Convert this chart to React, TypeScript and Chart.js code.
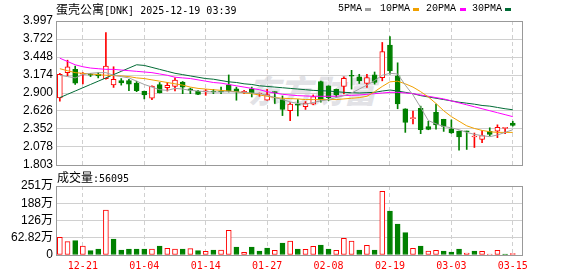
import React, { useEffect, useRef } from 'react';
import { Chart, registerables } from 'chart.js';

Chart.register(...registerables);

// ---------------- data ----------------
const dates = [
  '12-16', '12-17', '12-18', '12-21', '12-22', '12-23', '12-24', '12-28', '12-29', '12-30',
  '12-31', '01-04', '01-05', '01-06', '01-07', '01-08', '01-11', '01-12', '01-13', '01-14',
  '01-15', '01-19', '01-20', '01-21', '01-22', '01-25', '01-26', '01-27', '01-28', '01-29',
  '02-01', '02-02', '02-03', '02-04', '02-05', '02-08', '02-09', '02-10', '02-11', '02-12',
  '02-16', '02-17', '02-18', '02-19', '02-22', '02-23', '02-24', '02-25', '02-26', '03-01',
  '03-02', '03-03', '03-04', '03-05', '03-08', '03-09', '03-10', '03-11', '03-12', '03-15',
];

const opens = [
  2.825, 3.21, 3.26, 3.185, 3.19, 3.19, 3.12, 3.025, 3.09, 3.09,
  3.05, 2.925, 2.82, 3.03, 2.98, 3.0, 3.065, 2.965, 2.925, 2.918,
  2.925, 2.93, 3.025, 2.965, 2.905, 2.965, 2.885, 2.79, 2.915, 2.8,
  2.63, 2.73, 2.69, 2.73, 3.075, 3.01, 2.955, 3.0, 3.165, 3.145,
  3.045, 3.175, 3.135, 3.63, 3.16, 2.66, 2.51, 2.665, 2.39, 2.605,
  2.5, 2.355, 2.32, 2.32, 2.23, 2.193, 2.315, 2.317, 2.36, 2.44,
];
const highs = [
  3.2, 3.4, 3.31, 3.21, 3.2, 3.21, 3.82, 3.3, 3.12, 3.11,
  3.08, 2.93, 3.01, 3.06, 3.06, 3.13, 3.075, 2.975, 2.94, 2.955,
  2.955, 2.99, 3.175, 2.99, 2.94, 2.99, 2.9, 2.955, 2.92, 2.855,
  2.755, 2.8, 2.77, 2.87, 3.08, 3.01, 2.96, 3.145, 3.245, 3.185,
  3.185, 3.22, 3.67, 3.76, 3.36, 2.66, 2.625, 2.7, 2.47, 2.73,
  2.5, 2.49, 2.32, 2.32, 2.29, 2.327, 2.37, 2.415, 2.375, 2.47,
];
const lows = [
  2.775, 3.16, 3.03, 3.04, 3.15, 3.13, 3.11, 2.985, 3.02, 2.935,
  2.92, 2.81, 2.8, 2.9, 2.93, 2.93, 2.89, 2.89, 2.875, 2.865,
  2.89, 2.89, 2.915, 2.79, 2.89, 2.84, 2.85, 2.79, 2.74, 2.556,
  2.477, 2.55, 2.65, 2.72, 2.76, 2.785, 2.835, 2.885, 2.96, 3.045,
  2.985, 3.035, 3.085, 3.185, 2.66, 2.3, 2.43, 2.28, 2.34, 2.35,
  2.315, 2.285, 2.03, 2.04, 2.07, 2.143, 2.245, 2.22, 2.28, 2.395,
];
const closes = [
  3.184, 3.3, 3.05, 3.2, 3.17, 3.16, 3.31, 3.11, 3.055, 3.035,
  2.935, 2.87, 3.005, 2.9, 3.015, 3.095, 2.99, 2.94, 2.88, 2.925,
  2.915, 2.915, 2.93, 2.915, 2.925, 2.905, 2.895, 2.875, 2.905, 2.65,
  2.73, 2.715, 2.745, 2.845, 2.795, 2.83, 2.87, 3.124, 3.155, 3.085,
  3.135, 3.06, 3.53, 3.235, 2.735, 2.45, 2.52, 2.34, 2.345, 2.415,
  2.39, 2.29, 2.23, 2.31, 2.235, 2.252, 2.27, 2.377, 2.37, 2.405,
];

// volume in 万 (10k shares)
const volumes = [
  64.3, 48.6, 52.2, 32.8, 15.8, 21.9, 163.9, 58.3, 18.2, 21.9,
  21.9, 21.9, 21.9, 32.8, 24.3, 21.9, 21.9, 23.0, 15.8, 13.4,
  18.2, 18.2, 89.8, 29.1, 9.7, 29.1, 14.6, 25.5, 17.0, 43.7,
  51.0, 21.9, 20.6, 31.6, 36.4, 21.9, 17.0, 60.7, 51.0, 18.2,
  35.2, 18.2, 231.9, 160.2, 112.9, 81.3, 24.3, 32.8, 14.6, 17.0,
  14.6, 10.9, 21.9, 7.3, 14.6, 13.4, 3.6, 17.0, 3.6, 5.6095,
];
// 1 = up day (red hollow bar), 0 = down day (green bar)
const volUp = [
  1, 1, 0, 1, 0, 0, 1, 0, 0, 0,
  0, 0, 1, 0, 1, 1, 0, 1, 0, 1,
  0, 1, 1, 0, 1, 0, 0, 0, 1, 0,
  1, 0, 1, 1, 0, 0, 1, 1, 1, 0,
  1, 0, 1, 0, 0, 0, 1, 0, 1, 1,
  0, 0, 0, 1, 0, 1, 1, 1, 0, 1,
];

const ma5 = [
  3.17, 3.15, 3.13, 3.18, 3.2, 3.21, 3.21, 3.17, 3.15, 3.13,
  3.08, 3.03, 2.99, 2.95, 2.94, 2.97, 2.96, 2.94, 2.93, 2.92,
  2.915, 2.915, 2.92, 2.915, 2.91, 2.9, 2.89, 2.865, 2.83, 2.8,
  2.765, 2.74, 2.73, 2.755, 2.78, 2.8, 2.83, 2.86, 2.9, 2.96,
  3.02, 3.09, 3.17, 3.2, 3.19, 3.02, 2.87, 2.68, 2.48, 2.43,
  2.39, 2.37, 2.34, 2.3, 2.27, 2.25, 2.235, 2.26, 2.3, 2.34,
];
const ma10 = [
  3.27, 3.24, 3.21, 3.2, 3.19, 3.18, 3.17, 3.165, 3.16, 3.15,
  3.13, 3.12, 3.1, 3.08, 3.06, 3.04, 3.02, 2.99, 2.97, 2.96,
  2.95, 2.94, 2.93, 2.92, 2.9, 2.89, 2.87, 2.85, 2.83, 2.82,
  2.815, 2.81, 2.8, 2.8, 2.8, 2.8, 2.8, 2.81, 2.82, 2.83,
  2.85, 2.92, 3.0, 3.07, 3.08, 3.04, 2.99, 2.92, 2.84, 2.74,
  2.63, 2.54, 2.47, 2.4, 2.36, 2.33, 2.31, 2.3, 2.3, 2.3,
];
const ma20 = [
  3.43, 3.38, 3.33, 3.3, 3.28, 3.27, 3.26, 3.26, 3.25, 3.24,
  3.23, 3.22, 3.21, 3.19, 3.17, 3.14, 3.13, 3.12, 3.1, 3.08,
  3.06, 3.05, 3.03, 3.01, 2.99, 2.97, 2.95, 2.92, 2.9, 2.88,
  2.87, 2.86, 2.855, 2.85, 2.85, 2.85, 2.85, 2.86, 2.865, 2.87,
  2.88, 2.89, 2.9, 2.91, 2.91, 2.9, 2.89, 2.87, 2.85, 2.83,
  2.81, 2.78, 2.75, 2.72, 2.69, 2.66, 2.63, 2.6, 2.57, 2.54,
];
const ma30 = [
  2.83, 2.88, 2.93, 2.98, 3.03, 3.08, 3.13, 3.18, 3.23, 3.28,
  3.33, 3.32, 3.29, 3.26, 3.23, 3.2, 3.18, 3.16, 3.14, 3.12,
  3.11, 3.09, 3.07, 3.06, 3.04, 3.03, 3.01, 3.0, 2.99, 2.98,
  2.97, 2.96, 2.95, 2.94, 2.935, 2.93, 2.92, 2.91, 2.905, 2.9,
  2.905, 2.91, 2.93, 2.945, 2.93, 2.91, 2.89, 2.86, 2.84, 2.82,
  2.8, 2.78, 2.76, 2.745, 2.73, 2.71, 2.7, 2.68, 2.66, 2.645,
];

const priceTicks = ['1.803', '2.078', '2.352', '2.626', '2.900', '3.174', '3.448', '3.722', '3.997'];
const volTickValues = [0, 62.82, 125.64, 188.46, 251.28];
const volTickLabels = ['0', '62.82万', '126万', '188万', '251万'];
const dateTickIdx = [3, 11, 19, 27, 35, 43, 51, 59];

const maNames = ['5PMA', '10PMA', '20PMA', '30PMA'];

// ---------------- styles ----------------
const RED = '#ff0000';
const GREEN = '#008000';
const MA_COLORS = ['#a0a0a0', '#f0a000', '#ff00ff', '#006b35'];
const GRID = '#d0d0d0';
const FRAME = '#999999';
const W = 578;
const PRICE_H = 178;
const VOL_TOP = 170;
const VOL_H = 106;

const align = (p: number) => Math.round(p - 0.5) + 0.5;

const framePlugin = {
  id: 'frame',
  afterDraw(chart: any) {
    const { ctx, chartArea } = chart;
    const l = align(chartArea.left);
    const t = align(chartArea.top);
    const r = align(chartArea.right);
    const b = align(chartArea.bottom);
    ctx.save();
    ctx.strokeStyle = FRAME;
    ctx.lineWidth = 1;
    ctx.strokeRect(l, t, r - l, b - t);
    ctx.restore();
  },
};

const xScale = (showLabels: boolean, height: number) => ({
  type: 'linear',
  min: -0.5,
  max: 60.2,
  offset: false,
  afterBuildTicks: (s: any) => {
    s.ticks = dateTickIdx.map((v) => ({ value: v }));
  },
  afterFit: (s: any) => {
    s.height = height;
  },
  ticks: {
    display: showLabels,
    autoSkip: false,
    maxRotation: 0,
    padding: 5,
    color: RED,
    font: { family: '"DejaVu Sans Mono", monospace', size: 10 },
    callback: (v: number) => dates[v] ?? '',
  },
  grid: { color: GRID, drawTicks: false, offset: false, lineWidth: 1 },
  border: { display: false, dash: [4, 3] },
});

function priceConfig(): any {
  const up = closes.map((c, i) => c >= opens[i]);
  const maSets = [ma5, ma10, ma20, ma30].map((arr, k) => ({
    type: 'line',
    label: maNames[k],
    data: arr.map((y, x) => ({ x, y })),
    borderColor: MA_COLORS[k],
    borderWidth: 1,
    pointRadius: 0,
    fill: false,
    tension: 0,
    order: 0,
  }));
  return {
    type: 'bar',
    data: {
      datasets: [
        ...maSets,
        {
          type: 'bar',
          label: 'body',
          data: opens.map((o, i) => ({ x: i, y: [o, closes[i]] })),
          backgroundColor: up.map((u) => (u ? '#ffffff' : GREEN)),
          borderColor: up.map((u) => (u ? RED : GREEN)),
          borderWidth: 1,
          borderSkipped: false,
          barThickness: 5,
          minBarLength: 1,
          grouped: false,
          order: 1,
        },
        {
          type: 'bar',
          label: 'wick',
          data: highs.map((h, i) => ({ x: i, y: [lows[i], h] })),
          backgroundColor: up.map((u) => (u ? RED : GREEN)),
          barThickness: 1,
          grouped: false,
          order: 2,
        },
      ],
    },
    options: {
      responsive: false,
      animation: false,
      devicePixelRatio: 1,
      events: [],
      layout: { padding: { left: 0, right: W - 522, top: 21, bottom: PRICE_H - 165 } },
      plugins: { legend: { display: false }, tooltip: { enabled: false } },
      scales: {
        x: xScale(false, 0),
        y: {
          type: 'linear',
          min: 1.803,
          max: 3.997,
          beginAtZero: false,
          afterBuildTicks: (s: any) => {
            s.ticks = priceTicks.map((t) => ({ value: parseFloat(t) }));
          },
          afterFit: (s: any) => {
            s.width = 56;
          },
          ticks: {
            padding: 3,
            autoSkip: false,
            color: '#000',
            font: { family: '"Liberation Sans", Arial, sans-serif', size: 12 },
            callback: (_v: number, i: number) => priceTicks[i],
          },
          grid: { color: GRID, drawTicks: false, lineWidth: 1 },
          border: { display: false },
        },
      },
    },
    plugins: [framePlugin],
  };
}

function volConfig(): any {
  return {
    type: 'bar',
    data: {
      datasets: [
        {
          type: 'bar',
          label: 'volume',
          data: volumes.map((v, i) => ({ x: i, y: v })),
          backgroundColor: volUp.map((u) => (u ? '#ffffff' : GREEN)),
          borderColor: volUp.map((u) => (u ? RED : GREEN)),
          borderWidth: 1,
          borderSkipped: false,
          barThickness: 5,
          grouped: false,
        },
      ],
    },
    options: {
      responsive: false,
      animation: false,
      devicePixelRatio: 1,
      events: [],
      layout: { padding: { left: 0, right: W - 522, top: 16, bottom: 0 } },
      plugins: { legend: { display: false }, tooltip: { enabled: false } },
      scales: {
        x: xScale(true, VOL_H - 85),
        y: {
          type: 'linear',
          min: 0,
          max: 251.28,
          afterBuildTicks: (s: any) => {
            s.ticks = volTickValues.map((v) => ({ value: v }));
          },
          afterFit: (s: any) => {
            s.width = 56;
          },
          ticks: {
            padding: 3,
            autoSkip: false,
            color: '#000',
            font: { family: '"Liberation Sans", "Noto Sans CJK SC", sans-serif', size: 12 },
            callback: (_v: number, i: number) => volTickLabels[i],
          },
          grid: { color: GRID, drawTicks: false, lineWidth: 1 },
          border: { display: false },
        },
      },
    },
    plugins: [framePlugin],
  };
}

const abs = (left: number, top: number, extra: React.CSSProperties = {}): React.CSSProperties => ({
  position: 'absolute',
  left,
  top,
  whiteSpace: 'pre',
  ...extra,
});

const MONO = '"DejaVu Sans Mono", monospace';
const CJK = '"Noto Sans CJK SC", sans-serif';

export default function App() {
  const priceRef = useRef<HTMLCanvasElement>(null);
  const volRef = useRef<HTMLCanvasElement>(null);

  useEffect(() => {
    const c1 = new Chart(priceRef.current as HTMLCanvasElement, priceConfig());
    const c2 = new Chart(volRef.current as HTMLCanvasElement, volConfig());
    return () => {
      c1.destroy();
      c2.destroy();
    };
  }, []);

  const legendPos = [
    { text: 338, sw: 365 },
    { text: 380, sw: 413 },
    { text: 426, sw: 460 },
    { text: 472, sw: 505 },
  ];

  return (
    <div
      style={{
        position: 'absolute',
        left: 0,
        top: 0,
        width: W,
        height: 276,
        background: '#ffffff',
        overflow: 'hidden',
        color: '#000',
      }}
    >
      {/* watermark */}
      <div
        style={abs(248, 69, {
          fontFamily: CJK,
          fontSize: 32,
          fontWeight: 900,
          lineHeight: '40px',
          color: '#e2e2e6',
          fontStyle: 'italic',
        })}
      >
        东方财富
      </div>

      <canvas ref={priceRef} width={W} height={PRICE_H} style={{ position: 'absolute', left: 0, top: 0 }} />
      <canvas ref={volRef} width={W} height={VOL_H} style={{ position: 'absolute', left: 0, top: VOL_TOP }} />

      {/* title */}
      <div style={abs(56, 1, { lineHeight: '16px' })}>
        <span style={{ fontFamily: CJK, fontSize: 12 }}>蛋壳公寓</span>
        <span style={{ fontFamily: MONO, fontSize: 10 }}>[DNK] 2025-12-19 03:39</span>
      </div>

      {/* legend */}
      {maNames.map((n, k) => (
        <React.Fragment key={n}>
          <div style={abs(legendPos[k].text, 2, { fontFamily: '"Liberation Mono", monospace', fontSize: 10, lineHeight: '14px' })}>
            {n}
          </div>
          <div
            style={abs(legendPos[k].sw, 8, {
              width: 6,
              height: 3,
              background: MA_COLORS[k],
            })}
          />
        </React.Fragment>
      ))}

      {/* volume label */}
      <div style={abs(57, 170, { lineHeight: '14px' })}>
        <span style={{ fontFamily: CJK, fontSize: 12 }}>成交量</span>
        <span style={{ fontFamily: MONO, fontSize: 10 }}>:56095</span>
      </div>
    </div>
  );
}
